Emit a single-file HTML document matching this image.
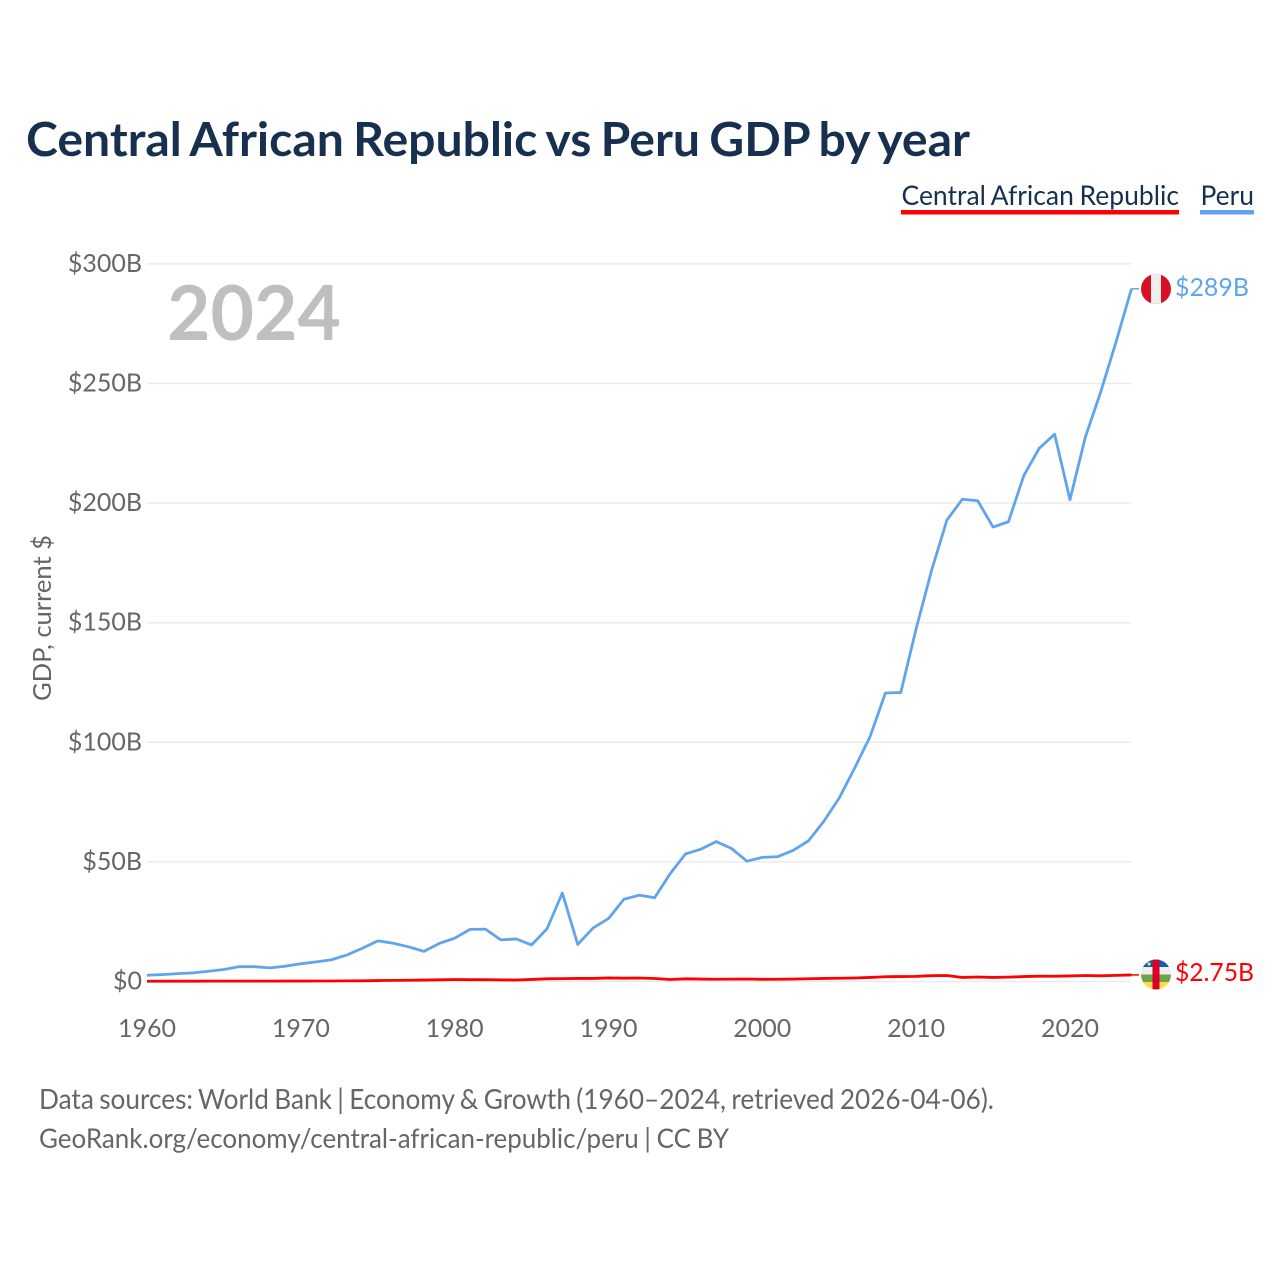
<!DOCTYPE html>
<html lang="en">
<head>
<meta charset="utf-8">
<title>Central African Republic vs Peru GDP by year</title>
<style>
html,body{margin:0;padding:0;background:#fff;}
svg{display:block;}
text{font-family:"Lato","Carlito","Liberation Sans",sans-serif;}
</style>
</head>
<body>
<svg id="chart" xmlns="http://www.w3.org/2000/svg" width="1280" height="1280" viewBox="0 0 1280 1280">
  <defs>
    <clipPath id="clip-peru"><circle cx="1156" cy="289" r="15"/></clipPath>
    <clipPath id="clip-car"><circle cx="1156" cy="974.5" r="15"/></clipPath>
  </defs>
  <rect width="1280" height="1280" fill="#fff"/>
  <text x="26" y="156" font-size="47" font-weight="700" fill="#17304f" word-spacing="-2.4" textLength="944" lengthAdjust="spacingAndGlyphs">Central African Republic vs Peru GDP by year</text>

  <g>
    <text x="901.5" y="205" font-size="27.4" fill="#17304f" word-spacing="-1.2" textLength="277.5" lengthAdjust="spacingAndGlyphs">Central African Republic</text>
    <rect x="901" y="210" width="278" height="4.5" fill="#ff0000"/>
  </g>
  <g>
    <text x="1200.5" y="205" font-size="27" fill="#17304f" textLength="53.5" lengthAdjust="spacingAndGlyphs">Peru</text>
    <rect x="1200" y="210" width="54" height="4.5" fill="#60a5ec"/>
  </g>

  <g id="grid"></g>
  <text x="167" y="340" font-size="76" font-weight="700" fill="#bfbfbf" textLength="174" lengthAdjust="spacingAndGlyphs">2024</text>
  <g id="yticks"></g>
  <g id="xticks"></g>
  <text transform="translate(51 618) rotate(-90)" text-anchor="middle" font-size="25" fill="#666" textLength="166" lengthAdjust="spacingAndGlyphs">GDP, current $</text>
  <g id="series"></g>

  <g id="flag-peru" clip-path="url(#clip-peru)">
    <rect x="1141" y="274" width="30" height="30" fill="#d91023"/>
    <rect x="1151" y="274" width="10" height="30" fill="#eeeeee"/>
  </g>
  <g id="flag-car" clip-path="url(#clip-car)">
    <rect x="1141" y="959.5" width="30" height="7.5" fill="#0f5fa8"/>
    <rect x="1141" y="967" width="30" height="7.5" fill="#eeeeee"/>
    <rect x="1141" y="974.5" width="30" height="7.5" fill="#6da544"/>
    <rect x="1141" y="982" width="30" height="7.5" fill="#ffda44"/>
    <rect x="1152.5" y="959.5" width="7" height="30" fill="#d80027"/>
    <circle cx="1149" cy="964" r="1.6" fill="#ffda44"/>
  </g>

  <text x="1175" y="296" font-size="25.5" fill="#60a5ec" textLength="74" lengthAdjust="spacingAndGlyphs">$289B</text>
  <text x="1175" y="981" font-size="25.5" fill="#ff0000" textLength="79" lengthAdjust="spacingAndGlyphs">$2.75B</text>

  <text x="39" y="1109" font-size="27.6" fill="#666" word-spacing="-1.4" textLength="955" lengthAdjust="spacingAndGlyphs">Data sources: World Bank | Economy &amp; Growth (1960–2024, retrieved 2026-04-06).</text>
  <text x="39" y="1148" font-size="27.2" fill="#666" word-spacing="-1" textLength="690" lengthAdjust="spacingAndGlyphs">GeoRank.org/economy/central-african-republic/peru | CC BY</text>
</svg>
<script>
const startYear = 1960;
const peruValues = [2.6,2.9,3.3,3.6,4.3,5.0,6.2,6.2,5.7,6.4,7.4,8.2,9.1,11.1,13.9,17.0,16.0,14.5,12.6,15.9,18.1,21.8,21.9,17.4,17.8,15.3,22.0,37.0,15.5,22.4,26.3,34.4,36.1,35.0,45.0,53.3,55.3,58.5,55.6,50.3,51.9,52.2,54.8,58.8,67.0,76.7,89.2,102.3,120.6,120.8,147.5,171.8,192.9,201.6,201.0,190.0,192.2,211.5,222.9,228.8,201.4,227.6,246.5,267.5,289.6];
const carValues = [0.11,0.12,0.13,0.14,0.15,0.15,0.16,0.16,0.17,0.19,0.19,0.2,0.22,0.27,0.29,0.4,0.46,0.53,0.6,0.7,0.85,0.75,0.75,0.68,0.62,0.87,1.12,1.2,1.27,1.27,1.49,1.38,1.45,1.26,0.85,1.12,1.03,0.94,1.0,1.05,0.91,0.93,1.02,1.14,1.27,1.35,1.47,1.7,1.98,2.07,2.14,2.43,2.5,1.69,1.89,1.7,1.83,2.07,2.22,2.2,2.33,2.52,2.38,2.55,2.75];
const yTickValues = [0,50,100,150,200,250,300];
const yTickLabels = ["$0","$50B","$100B","$150B","$200B","$250B","$300B"];
const xTickYears = [1960,1970,1980,1990,2000,2010,2020];

const NS = "http://www.w3.org/2000/svg";
const xPos = function (year) { return 147 + (year - 1960) * 15.383; };
const yPos = function (v) { return 981.5 - v * 2.392; };
const make = function (tag, parent, attrs) {
  const el = document.createElementNS(NS, tag);
  Object.keys(attrs).forEach(function (k) { el.setAttribute(k, attrs[k]); });
  parent.appendChild(el);
  return el;
};

const grid = document.getElementById("grid");
const yticks = document.getElementById("yticks");
yTickValues.forEach(function (v, i) {
  const line = make("line", grid, {x1: 147, x2: 1131, y1: yPos(v), y2: yPos(v), stroke: "#ebebeb", "stroke-width": 1.5});
  
  
  const t = make("text", yticks, {x: 142, y: yPos(v) + 8, "text-anchor": "end", "font-size": 25, fill: "#666"});
  
  
  t.textContent = yTickLabels[i];
});

const xticks = document.getElementById("xticks");
xTickYears.forEach(function (yr) {
  const t = make("text", xticks, {x: xPos(yr), y: 1037, "text-anchor": "middle", "font-size": 25, fill: "#666"});
  
  
  t.textContent = yr;
});

const series = document.getElementById("series");
const drawSeries = function (values, color, name) {
  const pts = values.map(function (v, i) {
    return xPos(startYear + i).toFixed(2) + "," + yPos(v).toFixed(2);
  });
  const last = values[values.length - 1];
  const leader = make("line", series, {x1: xPos(startYear + values.length - 1), x2: 1139, y1: yPos(last), y2: yPos(last), stroke: color, "stroke-width": 1.5});
  
  
  const line = make("polyline", series, {points: pts.join(" "), fill: "none", stroke: color, "stroke-width": 2.8, "stroke-linejoin": "round"});
  
  
};
drawSeries(peruValues, "#60a5ec", "peru-line");
drawSeries(carValues, "#ff0000", "central-african-republic-line");
</script>
</body>
</html>
